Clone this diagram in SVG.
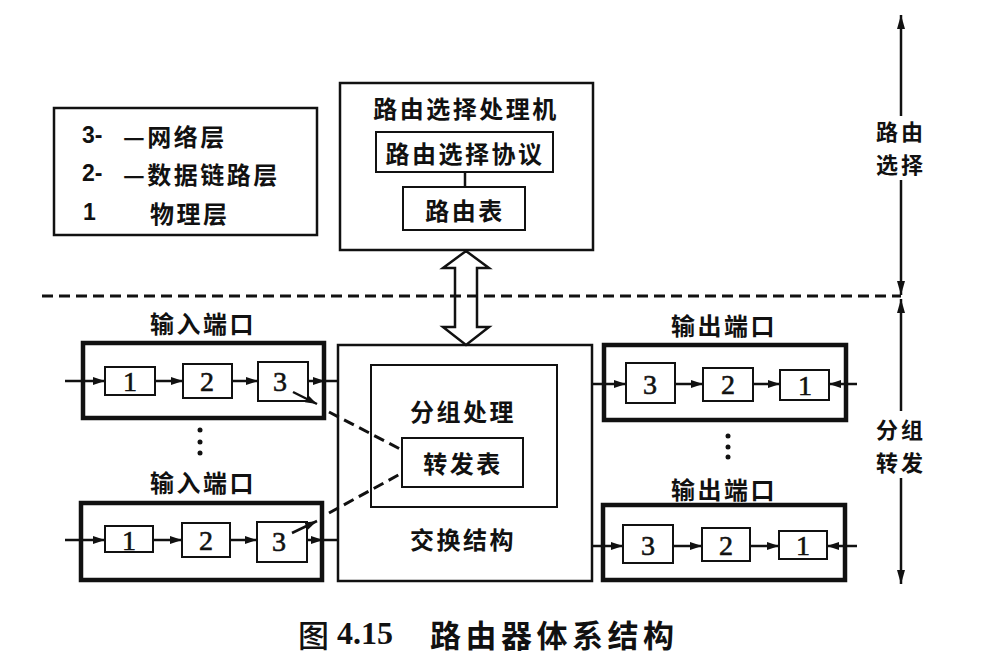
<svg xmlns="http://www.w3.org/2000/svg" width="996" height="658" viewBox="0 0 996 658">
<style>
.box{fill:none;stroke:#111;stroke-width:2.5}
.port{fill:none;stroke:#111;stroke-width:4.5}
.sm{fill:#fff;stroke:#111;stroke-width:2}
.ln{fill:none;stroke:#111;stroke-width:2.5}
.dash{fill:none;stroke:#111;stroke-width:3;stroke-dasharray:11 6}
.t{font-family:"Noto Sans CJK SC","Noto Sans CJK JP",sans-serif;font-weight:700;font-size:24px;fill:#111;letter-spacing:2.5px;text-anchor:middle;dominant-baseline:central}
.ta{font-family:"Noto Sans CJK SC","Noto Sans CJK JP",sans-serif;font-weight:700;font-size:22px;fill:#111;letter-spacing:3px;text-anchor:middle;dominant-baseline:central}
.ts{font-family:"Noto Sans CJK SC","Noto Sans CJK JP",sans-serif;font-weight:700;font-size:24px;fill:#111;letter-spacing:2.5px;dominant-baseline:central}
.d{font-family:"Liberation Serif",serif;font-size:28px;fill:#111;stroke:#111;stroke-width:0.6;text-anchor:middle;dominant-baseline:central}
.n{font-family:"Liberation Sans",sans-serif;font-weight:700;font-size:23px;fill:#111;dominant-baseline:central}
</style>
<defs>
<marker id="ah" viewBox="0 0 12 8" refX="12" refY="4" markerWidth="12" markerHeight="8" markerUnits="userSpaceOnUse" orient="auto"><path d="M0,0 L12,4 L0,8 z" fill="#111"/></marker>
<marker id="ax" viewBox="0 0 14 8" refX="14" refY="4" markerWidth="14" markerHeight="8" markerUnits="userSpaceOnUse" orient="auto"><path d="M0,0 L14,4 L0,8 z" fill="#111"/></marker>
</defs>
<rect width="996" height="658" fill="#fff"/>

<g id="legend">
<rect class="box" x="54" y="108" width="263" height="127"/>
<text class="n" x="82" y="135">3-</text>
<text class="ts" x="123" y="135">—网络层</text>
<text class="n" x="82" y="173">2-</text>
<text class="ts" x="123" y="173">—数据链路层</text>
<text class="n" x="83" y="212">1</text>
<text class="ts" x="150" y="212">物理层</text>
</g>

<g id="routing-processor">
<rect class="box" x="340" y="83" width="253" height="167"/>
<text class="t" x="466" y="107">路由选择处理机</text>
</g>
<g id="routing-protocol">
<rect class="sm" x="376" y="132" width="177" height="40"/>
<text class="t" x="465" y="152">路由选择协议</text>
</g>
<g id="routing-table">
<rect class="sm" x="403" y="187" width="122" height="43"/>
<text class="t" x="465" y="209">路由表</text>
</g>

<g id="switch-fabric">
<rect class="box" x="338" y="345" width="254" height="236"/>
<text class="t" x="463" y="538">交换结构</text>
</g>
<g id="packet-processing">
<rect class="sm" x="371" y="365" width="186" height="142"/>
<text class="t" x="463" y="410">分组处理</text>
</g>
<g id="forwarding-table">
<rect class="sm" x="402" y="438" width="121" height="49"/>
<text class="t" x="463" y="462">转发表</text>
</g>

<g id="input-port-1">
<text class="t" x="203" y="322">输入端口</text>
<rect class="port" x="83" y="343" width="241" height="75"/>
<rect class="sm" x="105" y="367" width="50" height="28"/>
<text class="d" x="130" y="381">1</text>
<rect class="sm" x="183" y="364" width="49" height="34"/>
<text class="d" x="207" y="381">2</text>
<rect class="sm" x="258" y="362" width="50" height="39"/>
<text class="d" x="280" y="381">3</text>
</g>
<g id="input-port-2">
<text class="t" x="203" y="481">输入端口</text>
<rect class="port" x="81" y="503" width="241" height="77"/>
<rect class="sm" x="105" y="526" width="48" height="26"/>
<text class="d" x="129" y="540">1</text>
<rect class="sm" x="182" y="523" width="48" height="34"/>
<text class="d" x="206" y="540">2</text>
<rect class="sm" x="257" y="522" width="50" height="40"/>
<text class="d" x="279" y="541">3</text>
</g>
<g id="output-port-1">
<text class="t" x="724" y="324">输出端口</text>
<rect class="port" x="604" y="345" width="242" height="75"/>
<rect class="sm" x="626" y="363" width="49" height="40"/>
<text class="d" x="650" y="384">3</text>
<rect class="sm" x="703" y="368" width="50" height="33"/>
<text class="d" x="728" y="384">2</text>
<rect class="sm" x="780" y="370" width="49" height="30"/>
<text class="d" x="805" y="385">1</text>
</g>
<g id="output-port-2">
<text class="t" x="724" y="488">输出端口</text>
<rect class="port" x="603" y="505" width="242" height="75"/>
<rect class="sm" x="623" y="525" width="50" height="38"/>
<text class="d" x="648" y="545">3</text>
<rect class="sm" x="702" y="528" width="48" height="33"/>
<text class="d" x="726" y="545">2</text>
<rect class="sm" x="779" y="531" width="48" height="28"/>
<text class="d" x="803" y="545">1</text>
</g>

<g id="ellipsis">
<circle cx="200" cy="430" r="2.5" fill="#111"/>
<circle cx="200" cy="442" r="2.5" fill="#111"/>
<circle cx="200" cy="453" r="2.5" fill="#111"/>
<circle cx="728" cy="436" r="2.5" fill="#111"/>
<circle cx="728" cy="447" r="2.5" fill="#111"/>
<circle cx="728" cy="457" r="2.5" fill="#111"/>
</g>

<g id="axis">
<text class="ta" x="901" y="130">路由</text>
<text class="ta" x="901" y="163">选择</text>
<text class="ta" x="901" y="428">分组</text>
<text class="ta" x="901" y="461">转发</text>
</g>

<g id="connectors">
<line class="ln" x1="465" y1="172" x2="465" y2="187"/>
<polygon points="466,251 489,268 477,268 477,327 489,327 466,345 443,327 455,327 455,268 443,268" fill="#fff" stroke="#111" stroke-width="2.5" stroke-linejoin="miter"/>
<line class="dash" x1="42" y1="296" x2="901" y2="296" stroke-dasharray="16 8"/>

<path class="ln" d="M65,381 H105" marker-end="url(#ah)"/>
<path class="ln" d="M155,381 H183" marker-end="url(#ah)"/>
<path class="ln" d="M232,381 H258" marker-end="url(#ah)"/>
<path class="ln" d="M308,381 H325" marker-end="url(#ah)"/>
<path class="ln" d="M325,381 H338"/>
<path class="ln" d="M293,392 L317,404" marker-end="url(#ah)"/>

<path class="ln" d="M65,540 H105" marker-end="url(#ah)"/>
<path class="ln" d="M153,540 H182" marker-end="url(#ah)"/>
<path class="ln" d="M230,540 H257" marker-end="url(#ah)"/>
<path class="ln" d="M307,540 H323" marker-end="url(#ah)"/>
<path class="ln" d="M323,540 H338"/>
<path class="ln" d="M292,533 L317,521" marker-end="url(#ah)"/>

<path class="ln" d="M592,384 H626" marker-end="url(#ah)"/>
<path class="ln" d="M675,384 H703" marker-end="url(#ah)"/>
<path class="ln" d="M753,384 H780" marker-end="url(#ah)"/>
<path class="ln" d="M857,384 H829" marker-end="url(#ah)"/>

<path class="ln" d="M592,546 H623" marker-end="url(#ah)"/>
<path class="ln" d="M673,546 H702" marker-end="url(#ah)"/>
<path class="ln" d="M750,546 H779" marker-end="url(#ah)"/>
<path class="ln" d="M857,546 H827" marker-end="url(#ah)"/>

<line class="dash" x1="329" y1="412" x2="402" y2="450"/>
<line class="dash" x1="329" y1="513" x2="402" y2="473"/>

<path class="ln" d="M901,116 V15" marker-end="url(#ax)"/>
<path class="ln" d="M901,180 V295" marker-end="url(#ax)"/>
<path class="ln" d="M901,411 V299" marker-end="url(#ax)"/>
<path class="ln" d="M901,478 V584" marker-end="url(#ax)"/>
</g>

<g id="caption">
<text x="298" y="633" font-family="'Noto Sans CJK SC',sans-serif" font-size="31" font-weight="500" fill="#111" dominant-baseline="central">图</text>
<text x="337" y="633" font-family="'Liberation Serif',serif" font-size="32" font-weight="700" fill="#111" dominant-baseline="central">4.15</text>
<text x="430" y="633" font-family="'Noto Sans CJK SC',sans-serif" font-size="31" font-weight="700" fill="#111" letter-spacing="4.5" dominant-baseline="central">路由器体系结构</text>
</g>
</svg>
